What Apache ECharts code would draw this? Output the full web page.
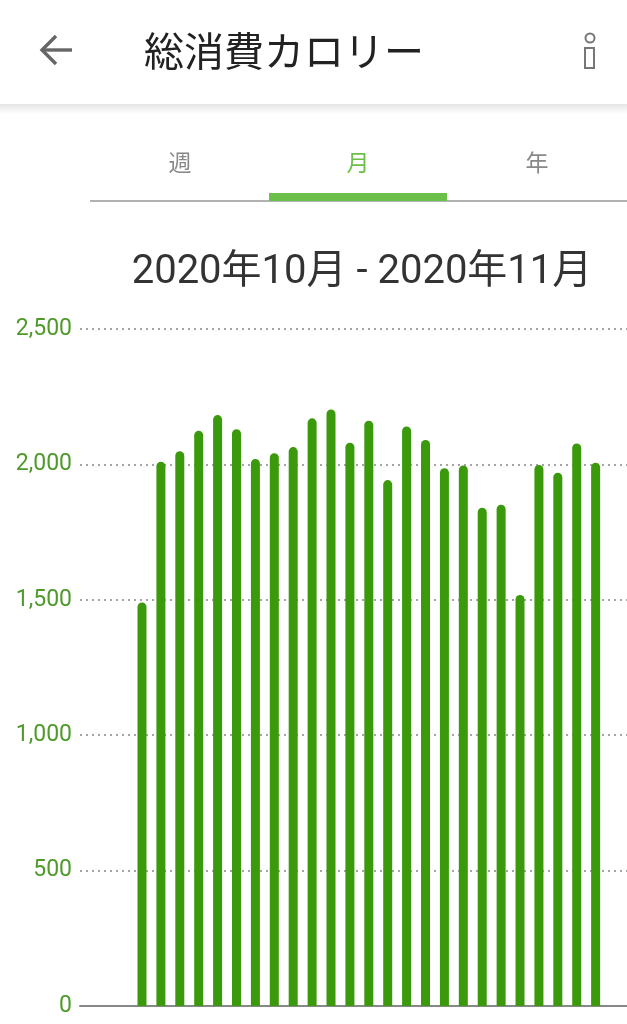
<!DOCTYPE html>
<html><head><meta charset="utf-8">
<script src="https://cdn.jsdelivr.net/npm/echarts@6/dist/echarts.min.js"></script>
<style>html,body{margin:0;padding:0;background:#fff;}#c{width:627px;height:1024px;}</style>
</head><body><div id="c"></div>
<script>
var days = [1,2,3,4,5,6,7,8,9,10,11,12,13,14,15,16,17,18,19,20,21,22,23,24,25];
var calories = [1490,2010,2049,2124,2182,2130,2020,2041,2064,2170,2203,2080,2161,1942,2140,2090,1986,1996,1840,1851,1518,1998,1969,2077,2006];
var yTicks = [0,500,1000,1500,2000,2500];
var titleText = '総消費カロリー';
var tabs = ['週','月','年'];
var rangeText = '2020年10月 - 2020年11月';

var chart = echarts.init(document.getElementById('c'), null, {renderer:'canvas'});
var cjk = '"Noto Sans CJK JP", Roboto, sans-serif';
var num = 'Roboto, "Noto Sans CJK JP", sans-serif';
chart.setOption({
  animation:false,
  backgroundColor:'#fff',
  title:{text:rangeText,left:357,top:248,textAlign:'center',
    textStyle:{fontFamily:num,fontSize:40,fontWeight:'normal',color:'#333'}},
  graphic:[
    {type:'rect',shape:{x:0,y:104,width:627,height:10},style:{fill:new echarts.graphic.LinearGradient(0,0,0,1,[{offset:0,color:'rgba(0,0,0,0.10)'},{offset:1,color:'rgba(0,0,0,0)'}])}},
    {type:'polyline',shape:{points:[[56,36],[42,50],[56,64]]},style:{stroke:'#666',lineWidth:3.4,fill:null}},
    {type:'line',shape:{x1:42,y1:50,x2:72,y2:50},style:{stroke:'#666',lineWidth:3.4}},
    {type:'text',x:144,y:51,style:{text:titleText,fontFamily:cjk,fontSize:40,fill:'#222',textVerticalAlign:'middle'}},
    {type:'circle',shape:{cx:590,cy:38,r:4.5},style:{stroke:'#777',lineWidth:2,fill:null}},
    {type:'rect',shape:{x:585,y:48,width:9,height:20},style:{stroke:'#777',lineWidth:2,fill:null}},
    {type:'text',x:180,y:162,style:{text:tabs[0],fontFamily:cjk,fontSize:23,fill:'#888',textAlign:'center',textVerticalAlign:'middle'}},
    {type:'text',x:358,y:162,style:{text:tabs[1],fontFamily:cjk,fontSize:23,fill:'#6cbf47',textAlign:'center',textVerticalAlign:'middle'}},
    {type:'text',x:537,y:162,style:{text:tabs[2],fontFamily:cjk,fontSize:23,fill:'#888',textAlign:'center',textVerticalAlign:'middle'}},
    {type:'line',shape:{x1:90,y1:201,x2:627,y2:201},style:{stroke:'#999',lineWidth:1.5}},
    {type:'rect',shape:{x:269,y:193,width:178,height:8},style:{fill:'#6cc04a'}}
  ],
  grid:{left:80,right:0,top:329,bottom:18,containLabel:false},
  xAxis:{type:'value',min:-2.28,max:26.66,
    axisLine:{show:true,onZero:false,lineStyle:{color:'#888',width:2}},
    axisTick:{show:false},axisLabel:{show:false},splitLine:{show:false}},
  yAxis:{type:'value',min:0,max:2500,interval:500,
    axisLine:{show:false},axisTick:{show:false},
    axisLabel:{margin:8,color:'#4f9a2a',fontFamily:num,fontSize:23,
      formatter:function(v){return v.toLocaleString('en-US');}},
    splitLine:{show:true,lineStyle:{color:'#888',type:[2,4],width:1.5}}},
  series:[{type:'bar',data:days.map(function(d,i){return [d,calories[i]];}),
    barWidth:9,itemStyle:{color:'#3a9a0b',borderRadius:[4.5,4.5,0,0]}}]
});
</script></body></html>
